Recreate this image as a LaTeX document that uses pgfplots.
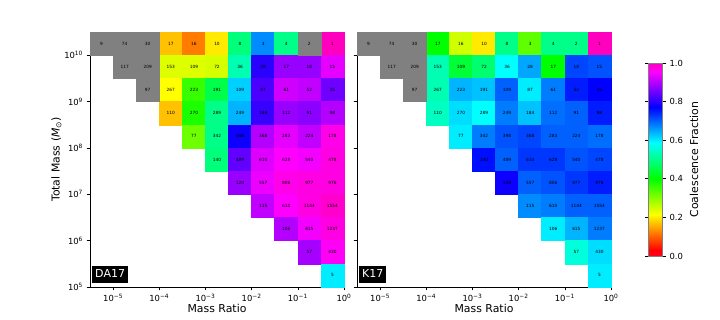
\documentclass[border=0pt]{standalone}
\usepackage{pgfplots}
\usepackage{pgfplotstable}
\pgfplotsset{compat=1.18}
\usepackage{fontspec}
\setmainfont{DejaVu Sans}
\definecolor{cellgray}{rgb}{0.5,0.5,0.5}

% DA17: x = log10(mass ratio) cell centre, y = log10(total mass) cell centre, f = coalescence fraction, n = count
\pgfplotstableread{
x y f n
-3.75 10.25 0.17 17
-3.25 10.25 0.12 16
-2.75 10.25 0.20 10
-2.25 10.25 0.49 8
-1.75 10.25 0.67 3
-1.25 10.25 0.50 4
-0.25 10.25 1.00 1
-3.75 9.75 0.24 153
-3.25 9.75 0.24 109
-2.75 9.75 0.245 72
-2.25 9.75 0.53 36
-1.75 9.75 0.80 28
-1.25 9.75 0.88 17
-0.75 9.75 0.88 18
-0.25 9.75 0.935 15
-3.75 9.25 0.215 267
-3.25 9.25 0.36 223
-2.75 9.25 0.455 191
-2.25 9.25 0.62 109
-1.75 9.25 0.825 87
-1.25 9.25 0.92 61
-0.75 9.25 0.91 52
-0.25 9.25 0.85 35
-3.75 8.75 0.17 110
-3.25 8.75 0.38 270
-2.75 8.75 0.50 289
-2.25 8.75 0.64 249
-1.75 8.75 0.81 184
-1.25 8.75 0.88 112
-0.75 8.75 0.87 91
-0.25 8.75 0.90 98
-3.25 8.25 0.32 77
-2.75 8.25 0.50 342
-2.25 8.25 0.78 398
-1.75 8.25 0.90 368
-1.25 8.25 0.935 283
-0.75 8.25 0.91 224
-0.25 8.25 0.97 178
-2.75 7.75 0.49 140
-2.25 7.75 0.84 489
-1.75 7.75 0.93 610
-1.25 7.75 0.954 628
-0.75 7.75 0.945 540
-0.25 7.75 0.975 478
-2.25 7.25 0.88 120
-1.75 7.25 0.94 557
-1.25 7.25 0.97 806
-0.75 7.25 0.975 977
-0.25 7.25 0.975 976
-1.75 6.75 0.91 115
-1.25 6.75 0.954 610
-0.75 6.75 0.975 1144
-0.25 6.75 0.99 1554
-1.25 6.25 0.90 106
-0.75 6.25 0.945 615
-0.25 6.25 0.975 1237
-0.75 5.75 0.89 57
-0.25 5.75 0.96 430
-0.25 5.25 0.60 5
}\DAcol
\pgfplotstableread{
x y n
-5.25 10.25 9
-4.75 10.25 74
-4.25 10.25 30
-0.75 10.25 2
-4.75 9.75 117
-4.25 9.75 209
-4.25 9.25 97
}\DAgray

% K17
\pgfplotstableread{
x y f n
-3.75 10.25 0.40 17
-3.25 10.25 0.25 16
-2.75 10.25 0.20 10
-2.25 10.25 0.50 8
-1.75 10.25 0.33 3
-1.25 10.25 0.50 4
-0.75 10.25 0.50 2
-0.25 10.25 1.00 1
-3.75 9.75 0.53 153
-3.25 9.75 0.44 109
-2.75 9.75 0.48 72
-2.25 9.75 0.586 36
-1.75 9.75 0.65 28
-1.25 9.75 0.40 17
-0.75 9.75 0.72 18
-0.25 9.75 0.71 15
-3.75 9.25 0.53 267
-3.25 9.25 0.64 223
-2.75 9.25 0.63 191
-2.25 9.25 0.70 109
-1.75 9.25 0.60 87
-1.25 9.25 0.68 61
-0.75 9.25 0.75 52
-0.25 9.25 0.77 35
-3.75 8.75 0.54 110
-3.25 8.75 0.61 270
-2.75 8.75 0.586 289
-2.25 8.75 0.68 249
-1.75 8.75 0.63 184
-1.25 8.75 0.69 112
-0.75 8.75 0.70 91
-0.25 8.75 0.75 98
-3.25 8.25 0.60 77
-2.75 8.25 0.68 342
-2.25 8.25 0.71 398
-1.75 8.25 0.72 368
-1.25 8.25 0.70 283
-0.75 8.25 0.70 224
-0.25 8.25 0.69 178
-2.75 7.75 0.76 140
-2.25 7.75 0.70 489
-1.75 7.75 0.73 610
-1.25 7.75 0.73 628
-0.75 7.75 0.71 540
-0.25 7.75 0.72 478
-2.25 7.25 0.78 120
-1.75 7.25 0.70 557
-1.25 7.25 0.71 806
-0.75 7.25 0.73 977
-0.25 7.25 0.75 976
-1.75 6.75 0.67 115
-1.25 6.75 0.68 610
-0.75 6.75 0.70 1144
-0.25 6.75 0.70 1554
-1.25 6.25 0.60 106
-0.75 6.25 0.64 615
-0.25 6.25 0.68 1237
-0.75 5.75 0.56 57
-0.25 5.75 0.61 430
-0.25 5.25 0.60 5
}\Kcol
\pgfplotstableread{
x y n
-5.25 10.25 9
-4.75 10.25 74
-4.25 10.25 30
-4.75 9.75 117
-4.25 9.75 209
-4.25 9.25 97
}\Kgray

\tikzset{
  tagnode/.style={fill=black, text=white, font=\fontsize{11}{12}\selectfont, inner xsep=3pt, inner ysep=4pt, text height=8pt, text depth=1pt, anchor=south west},
}
\pgfplotsset{
  colormap={gistrainbow}{rgb(0pt)=(1,0,0.16); rgb(30pt)=(1,0,0); rgb(215pt)=(1,1,0); rgb(400pt)=(0,1,0); rgb(586pt)=(0,1,1); rgb(770pt)=(0,0,1); rgb(954pt)=(1,0,1); rgb(1000pt)=(1,0,0.75)},
  cellplot/.style={scatter, only marks, mark=square*, mark size=11.6pt,
    scatter/use mapped color={draw=mapped color, fill=mapped color},
    point meta=explicit},
  grayplot/.style={only marks, mark=square*, mark size=11.6pt,
    mark options={fill=cellgray, draw=cellgray}},
  labelplot/.style={only marks, mark=none, point meta=explicit symbolic,
    nodes near coords,
    every node near coord/.append style={anchor=center, text=black, inner sep=0pt, font=\fontsize{4.3}{5}\selectfont}},
  heat/.style={
    scale only axis, width=254pt, height=255pt,
    xmin=-5.5, xmax=0, ymin=5, ymax=10.5,
    xtick={-5,-4,-3,-2,-1,0},
    xticklabels={10\textsuperscript{−5},10\textsuperscript{−4},10\textsuperscript{−3},10\textsuperscript{−2},10\textsuperscript{−1},10\textsuperscript{0}},
    ytick={5,6,7,8,9,10},
    xtick pos=bottom, ytick pos=left,
    tick align=outside, major tick length=3.5pt,
    tick style={black, line width=0.6pt},
    axis line style={black, line width=0.6pt},
    axis on top,
    colormap name=gistrainbow, point meta min=0, point meta max=1,
    ticklabel style={font=\fontsize{8.4}{10}\selectfont},
    label style={font=\fontsize{10.9}{12}\selectfont},
    xlabel={Mass Ratio},
    xlabel style={yshift=4pt},
    /pgf/number format/assume math mode=true,
  },
}

\begin{document}
\begin{tikzpicture}
\path[use as bounding box] (0,0) rectangle (720pt,320pt);
\begin{axis}[heat, at={(90pt,33pt)}, anchor=south west,
  yticklabels={10\textsuperscript{5},10\textsuperscript{6},10\textsuperscript{7},10\textsuperscript{8},10\textsuperscript{9},10\textsuperscript{10}},
  ylabel={Total Mass (\textit{M}\textsubscript{⊙})},
  ylabel style={yshift=-4pt}]
\addplot[cellplot] table[x=x, y=y, meta=f]{\DAcol};
\addplot[grayplot] table[x=x, y=y]{\DAgray};
\addplot[labelplot] table[x=x, y=y, meta=n]{\DAcol};
\addplot[labelplot] table[x=x, y=y, meta=n]{\DAgray};
\node[tagnode] at (rel axis cs:0.008,0.016) {DA17};
\end{axis}
\begin{axis}[heat, at={(357pt,33pt)}, anchor=south west,
  yticklabels={},
  colorbar,
  colorbar style={at={(parent axis.east)}, anchor=west, xshift=29pt,
    width=14pt, height=193pt,
    ytick={0,0.2,0.4,0.6,0.8,1},
    yticklabel pos=right, ylabel near ticks,
    yticklabel style={font=\fontsize{8.4}{10}\selectfont, /pgf/number format/.cd, fixed, fixed zerofill, precision=1},
    /pgf/number format/assume math mode=true,
    ylabel={Coalescence Fraction},
    ylabel style={font=\fontsize{10.9}{12}\selectfont},
    axis line style={gray, line width=0.6pt},
    tick style={black, line width=0.6pt}, major tick length=3.5pt, tick align=outside}]
\addplot[cellplot] table[x=x, y=y, meta=f]{\Kcol};
\addplot[grayplot] table[x=x, y=y]{\Kgray};
\addplot[labelplot] table[x=x, y=y, meta=n]{\Kcol};
\addplot[labelplot] table[x=x, y=y, meta=n]{\Kgray};
\node[tagnode] at (rel axis cs:0.008,0.016) {K17};
\end{axis}
\end{tikzpicture}
\end{document}
